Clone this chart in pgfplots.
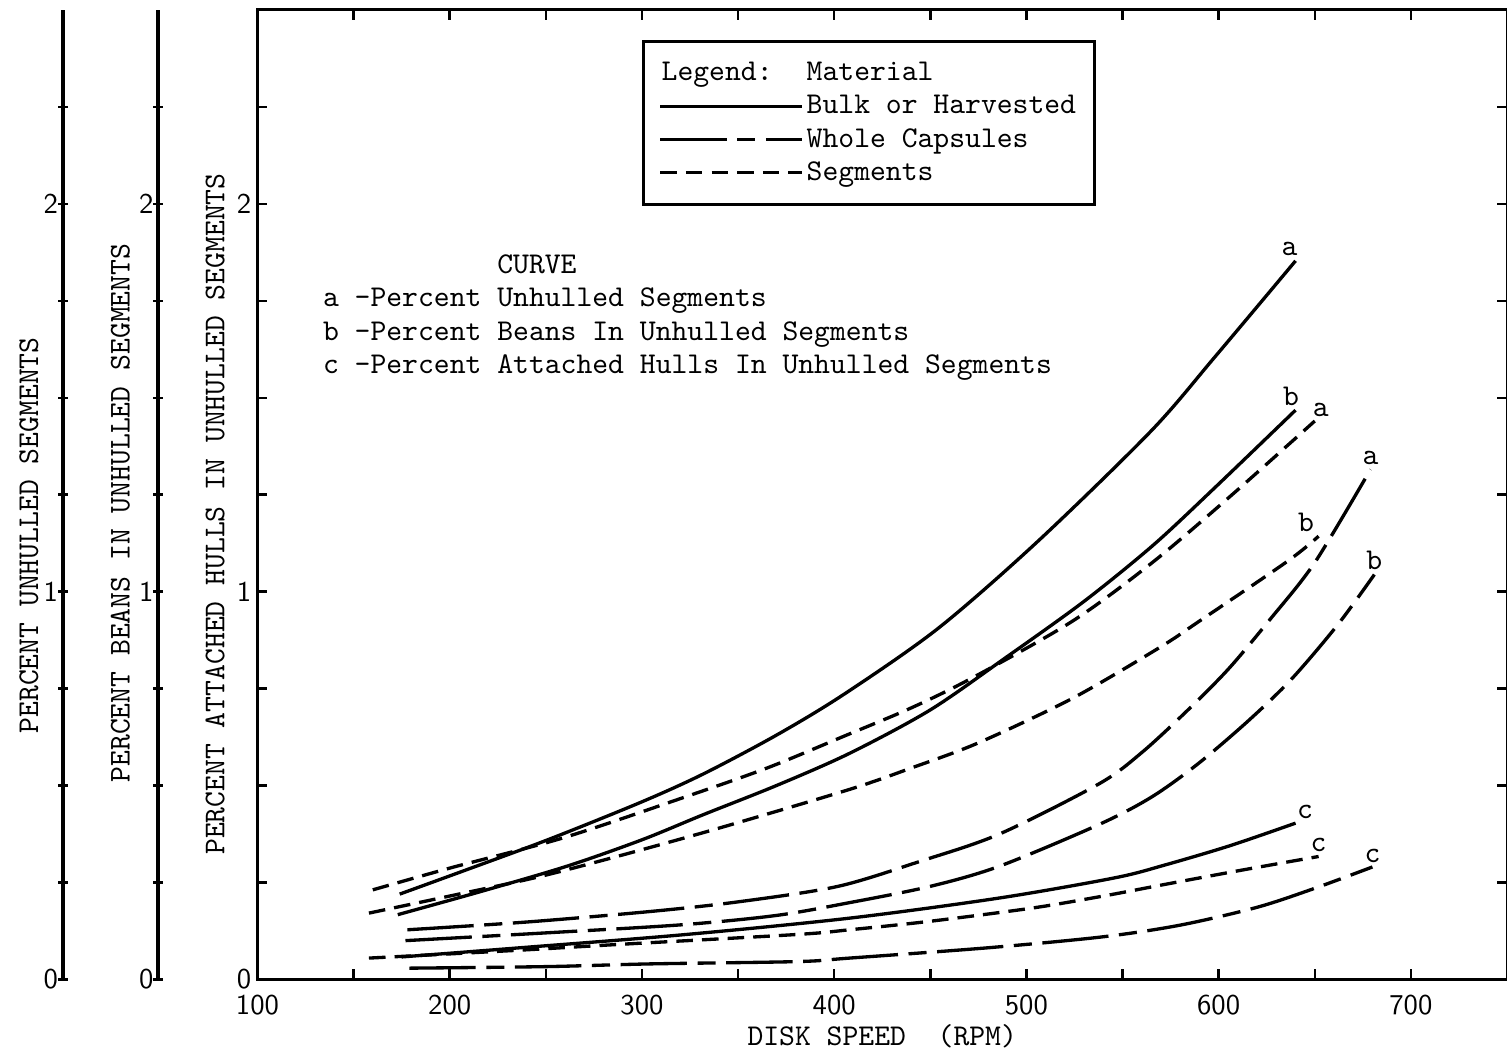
\documentclass[border=0pt]{standalone}
\usepackage{fontspec}
\usepackage{pgfplots}
\pgfplotsset{compat=1.18}

\tikzset{
  bulk/.style={black, line width=1.1pt},
  whole/.style={black, line width=1.1pt, dash pattern=on 22pt off 3.5pt on 6pt off 3.5pt},
  seg/.style={black, line width=1.1pt, dash pattern=on 5.5pt off 3pt},
  lab/.style={font=\ttfamily, inner sep=1pt},
}
\pgfplotsset{
  scanaxis/.style={
    scale only axis, height=321.2pt,
    ymin=0, ymax=2.5,
    ytick={0,1,2}, minor ytick={0.25,0.5,0.75,1.25,1.5,1.75,2.25},
    tick align=inside,
    major tick length=3.3pt, minor tick length=3.3pt,
    every tick/.style={black, line width=0.8pt},
    /pgf/number format/assume math mode=true,
    ticklabel style={font=\sffamily\fontsize{9.5}{11}\selectfont},
    label style={font=\ttfamily},
  },
  sideaxis/.style={
    scanaxis, width=1pt, xmin=0, xmax=1, hide x axis,
    axis y line=left, axis line style={-, line width=1.3pt},
    yticklabel style={xshift=3.5pt},
    anchor=south west,
  },
}

\begin{document}
\begin{tikzpicture}
\begin{axis}[scanaxis, name=main,
  width=414pt, xmin=100, xmax=750,
  xtick={100,200,...,700}, minor xtick={150,250,...,650},
  axis line style={line width=1pt},
  xticklabel style={yshift=-1.5pt},
  yticklabel style={xshift=1.5pt},
  xlabel={DISK SPEED~~(RPM)},
  xlabel style={yshift=3.5pt},
  ylabel={PERCENT ATTACHED HULLS IN UNHULLED SEGMENTS},
  every axis y label/.style={at={(axis description cs:0,0.48)}, rotate=90, anchor=center, yshift=14pt, font=\ttfamily},
  legend cell align=left,
  legend image code/.code={\draw[#1] (0pt,0pt) -- (47pt,0pt);},
  legend style={at={(0.3077,0.969)}, anchor=north west, draw=black, line width=1pt,
    font=\ttfamily, inner xsep=5pt, inner ysep=5pt, row sep=0pt,
    nodes={text height=7pt, text depth=2pt, inner ysep=1pt, inner xsep=1pt}},
]
\addlegendimage{legend image code/.code={\node[anchor=west, inner sep=0pt] at (0pt,0pt) {Legend:};}}
\addlegendentry{Material}
\addlegendimage{bulk}\addlegendentry{Bulk or Harvested}
\addlegendimage{whole}\addlegendentry{Whole Capsules}
\addlegendimage{seg}\addlegendentry{Segments}

% bulk or harvested
\addplot[bulk, smooth, forget plot] coordinates {
  (174,0.22) (210,0.285) (252,0.362) (300,0.458) (332,0.53) (370,0.63)
  (405,0.735) (454,0.905) (506,1.13) (565,1.415) (598,1.605) (640,1.853)
} node[pos=1, lab, anchor=south, xshift=-2pt] {a};
\addplot[bulk, smooth, forget plot] coordinates {
  (173,0.167) (215,0.225) (261,0.292) (300,0.36) (332,0.425) (370,0.5)
  (408,0.583) (450,0.695) (489,0.829) (530,0.975) (566,1.12) (598,1.268) (640,1.468)
} node[pos=1, lab, anchor=south, xshift=-1.5pt] {b};
\addplot[bulk, smooth, forget plot] coordinates {
  (175,0.058) (235,0.081) (321,0.115) (408,0.158) (486,0.21) (546,0.262)
  (572,0.295) (606,0.345) (640,0.403)
} node[pos=1, lab, anchor=south west, xshift=-1pt] {c};

% whole capsules
\addplot[whole, smooth, forget plot] coordinates {
  (178,0.128) (240,0.148) (304,0.175) (350,0.2) (402,0.24) (445,0.305)
  (486,0.375) (538,0.505) (560,0.585) (583,0.69) (605,0.8) (627,0.93)
  (650,1.075) (679,1.315)
} node[pos=1, lab, anchor=south] {a};
\addplot[whole, smooth, forget plot] coordinates {
  (177,0.10) (250,0.12) (321,0.141) (370,0.165) (408,0.198) (450,0.24)
  (486,0.292) (538,0.40) (565,0.47) (589,0.555) (615,0.665) (638,0.775)
  (662,0.915) (681,1.044)
} node[pos=1, lab, anchor=south] {b};
\addplot[whole, smooth, forget plot] coordinates {
  (179,0.029) (250,0.033) (304,0.04) (381,0.046) (408,0.055) (481,0.082)
  (540,0.11) (580,0.14) (620,0.186) (650,0.235) (680,0.29)
} node[pos=1, lab, anchor=south] {c};

% segments
\addplot[seg, smooth, forget plot] coordinates {
  (160,0.231) (200,0.287) (259,0.365) (321,0.468) (365,0.545) (405,0.627)
  (440,0.70) (472,0.778) (524,0.924) (566,1.077) (607,1.25) (650,1.44)
} node[pos=1, lab, anchor=south, xshift=2pt] {a};
\addplot[seg, smooth, forget plot] coordinates {
  (158,0.171) (200,0.215) (245,0.263) (287,0.317) (340,0.39) (408,0.49)
  (440,0.545) (475,0.61) (524,0.725) (569,0.855) (590,0.924) (636,1.079) (652,1.143)
} node[pos=1, lab, anchor=south east] {b};
\addplot[seg, smooth, forget plot] coordinates {
  (158,0.055) (235,0.075) (287,0.09) (381,0.116) (408,0.128) (450,0.15)
  (503,0.184) (540,0.215) (572,0.245) (610,0.28) (652,0.317)
} node[pos=1, lab, anchor=south] {c};

\node[anchor=north west, align=left, inner sep=0pt, font=\fontsize{10}{11}\selectfont\ttfamily]
  at (rel axis cs:0.052,0.748)
  {\phantom{aaaaaaaaaaa}CURVE\\
   a -Percent Unhulled Segments\\
   b -Percent Beans In Unhulled Segments\\
   c -Percent Attached Hulls In Unhulled Segments};
\end{axis}

\begin{axis}[sideaxis, at={(-32.8pt,0pt)},
  ylabel={PERCENT BEANS IN UNHULLED SEGMENTS},
  every axis y label/.style={at={(axis description cs:0,0.481)}, rotate=90, anchor=center, yshift=12.6pt, font=\ttfamily},
]
\end{axis}

\begin{axis}[sideaxis, at={(-64.4pt,0pt)},
  ylabel={PERCENT UNHULLED SEGMENTS},
  every axis y label/.style={at={(axis description cs:0,0.458)}, rotate=90, anchor=center, yshift=11.3pt, font=\ttfamily},
]
\end{axis}

\pgfresetboundingbox
\path[use as bounding box] (-85.3pt,-25.5pt) rectangle (414pt,324.5pt);
\end{tikzpicture}
\end{document}
